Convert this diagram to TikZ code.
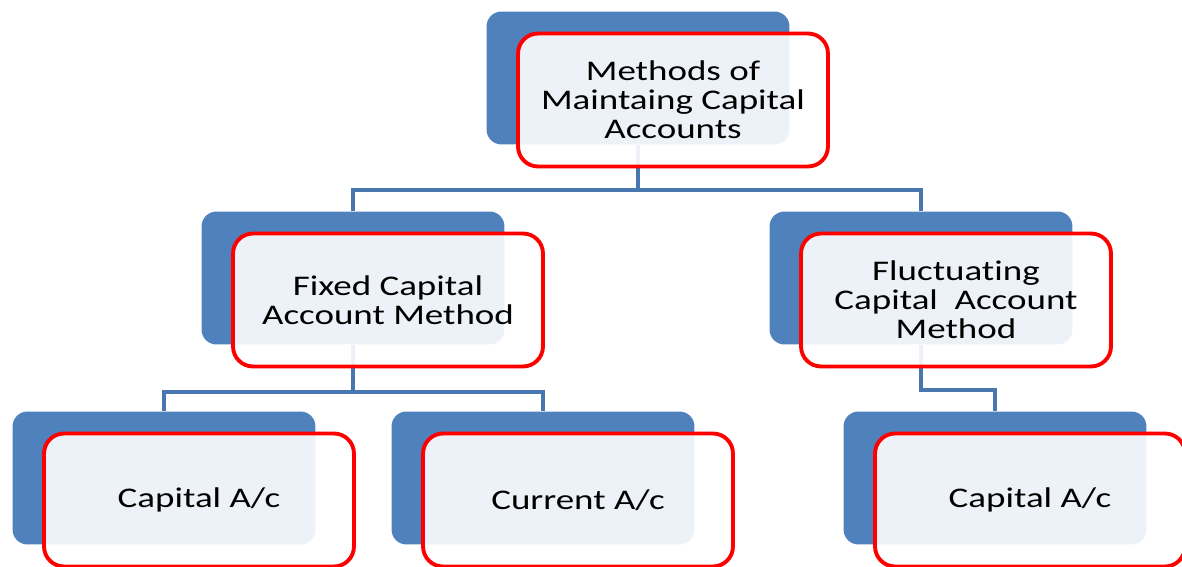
\documentclass[tikz,border=0pt]{standalone}
\usepackage{fontspec}
\setmainfont{Carlito}[FakeStretch=1.3, RawFeature=-liga]
\definecolor{boxblue}{RGB}{79,129,189}
\definecolor{linkblue}{RGB}{72,118,174}
\definecolor{rimred}{RGB}{255,0,0}

\begin{document}
\begin{tikzpicture}[x=0.02cm, y=-0.02cm]
    \tikzstyle{back}=[rectangle, rounded corners=0.3cm, fill=boxblue, minimum width=6.06cm, minimum height=2.66cm, inner sep=0pt]
    \tikzstyle{front}=[rectangle, rounded corners=0.4cm, draw=rimred, line width=2.2pt, fill=white, fill opacity=0.9, text opacity=1, minimum width=6.2cm, minimum height=2.66cm, inner sep=0pt, align=center, font=\fontsize{16.2}{16.5}\selectfont]
    \tikzstyle{link}=[draw=linkblue, line width=2pt]

    \useasboundingbox (0,0) rectangle (1182,567);
    \clip (0,0) rectangle (1182,567);

    % blue boxes behind
    \foreach \name/\x/\y in {top/638/78, fix/353/278, flu/921/278, cap/164/478, cur/543/478, fcap/995/478}
        \node[back] (\name-b) at (\x,\y) {};

    % links between the blue boxes
    \path[link] (top-b.south) -- ++(0,45) -| (fix-b.north);
    \path[link] (top-b.south) -- ++(0,45) -| (flu-b.north);
    \path[link] (fix-b.south) -- ++(0,47) -| (cap-b.north);
    \path[link] (fix-b.south) -- ++(0,47) -| (cur-b.north);
    \path[link] (flu-b.south) -- ++(0,45) -| (fcap-b.north);

    % red boxes in front
    \foreach \name/\txt in {top/{Methods of\\Maintaing Capital\\Accounts},
                            fix/{Fixed Capital\\Account Method},
                            flu/{Fluctuating\\Capital\ \ Account\\Method},
                            cap/{Capital A/c},
                            cur/{Current A/c},
                            fcap/{Capital A/c}}
        \node[front] (\name) at ([shift={(35,22)}]\name-b) {\txt};
\end{tikzpicture}
\end{document}
